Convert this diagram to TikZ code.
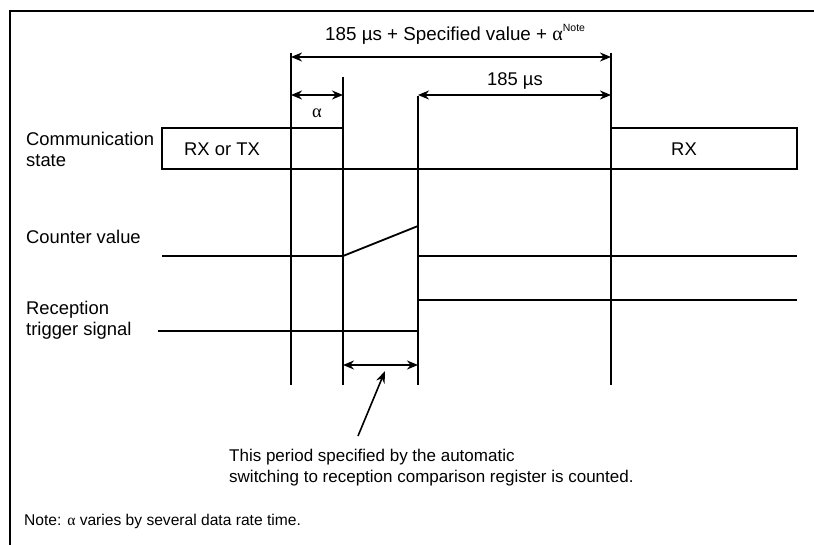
\documentclass[tikz,border=0pt]{standalone}
\usepackage{fontspec}
\setmainfont{Liberation Sans}
\newfontfamily\grk{Liberation Serif}
\usetikzlibrary{arrows.meta}
\begin{document}
\begin{tikzpicture}[x=1pt,y=-1pt,
  lbl/.style={inner sep=0pt, font=\fontsize{18.4}{21}\selectfont, anchor=base west, align=left},
  stxt/.style={inner sep=0pt, font=\fontsize{18.4}{21}\selectfont, anchor=base},
  sig/.style={line width=1.8pt, line join=miter},
  vline/.style={line width=1.6pt},
  dimarrow/.style={line width=1.8pt, {Stealth[length=11pt,width=9pt]}-{Stealth[length=11pt,width=9pt]}},
  pointer/.style={line width=1.6pt, -{Stealth[length=12pt,width=9pt]}}
]
\useasboundingbox (0,0) rectangle (814,545);
% frame
\coordinate (fr) at (814,11);
\coordinate (fc) at (10,11);
\coordinate (fb) at (10,545);
\draw[line width=2.2pt] (fr) -- (fc) -- (fb);

% vertical timing lines
\coordinate (v1t) at (291,53);  \coordinate (v1b) at (291,385);
\coordinate (v2t) at (343,77);  \coordinate (v2b) at (343,385);
\coordinate (v3t) at (418,96);  \coordinate (v3b) at (418,385);
\coordinate (v4t) at (611,53);  \coordinate (v4b) at (611,385);
\draw[vline] (v1t) -- (v1b);
\draw[vline] (v2t) -- (v2b);
\draw[vline] (v3t) -- (v3b);
\draw[vline] (v4t) -- (v4b);

% communication state
\coordinate (b1) at (343,128);
\coordinate (b2) at (162,128);
\coordinate (b3) at (162,169);
\coordinate (b4) at (797,169);
\coordinate (b5) at (797,128);
\coordinate (b6) at (611,128);
\draw[sig] (b1) -- (b2) -- (b3) -- (b4) -- (b5) -- (b6);

% counter value
\coordinate (c1) at (162,256);
\coordinate (c2) at (343,256);
\coordinate (c3) at (418,226);
\coordinate (c4) at (418,256);
\coordinate (c5) at (797,256);
\draw[sig] (c1) -- (c2) -- (c3);
\draw[sig] (c4) -- (c5);

% reception trigger signal
\coordinate (t1) at (158,331);
\coordinate (t2) at (418,331);
\coordinate (t3) at (418,300);
\coordinate (t4) at (797,300);
\draw[sig] (t1) -- (t2);
\draw[sig] (t3) -- (t4);

% dimension arrows
\coordinate (d1a) at (291,57);  \coordinate (d1b) at (611,57);
\coordinate (d2a) at (291,95);  \coordinate (d2b) at (343,95);
\coordinate (d3a) at (418,95);  \coordinate (d3b) at (611,95);
\coordinate (d4a) at (343,365); \coordinate (d4b) at (418,365);
\draw[dimarrow] (d1a) -- (d1b);
\draw[dimarrow] (d2a) -- (d2b);
\draw[dimarrow] (d3a) -- (d3b);
\draw[dimarrow] (d4a) -- (d4b);

% pointer
\coordinate (p1) at (358,436);
\coordinate (p2) at (385,371);
\draw[pointer] (p1) -- (p2);

% labels (base anchor = baseline of last line)
\node[lbl] (comm) at (26,167) {Communication\\state};
\node[lbl] (cnt) at (26,244) {Counter value};
\node[lbl] (rec) at (26,336) {Reception\\trigger signal};
\node[stxt] (rxtx) at (222,156) {RX or TX};
\node[stxt] (rx) at (684,156) {RX};
\node[inner sep=0pt, font=\fontsize{18.8}{21}\selectfont, anchor=base west] (total) at (325,41)
  {185 µs + Specified value + {\grk\fontsize{20}{21}\selectfont α}\raisebox{0.95ex}{\fontsize{10.5}{11}\selectfont Note}};
\node[stxt] (t185) at (515,86) {185 µs};
\node[stxt] (alab) at (317,118) {\grk α};
\node[inner sep=0pt, font=\fontsize{17}{21}\selectfont, anchor=base west, align=left] (expl) at (229,482)
  {This period specified by the automatic\\switching to reception comparison register is counted.};
\node[inner sep=0pt, font=\fontsize{15.6}{20}\selectfont, anchor=base west] (note) at (24,525)
  {Note: {\grk α} varies by several data rate time.};
\end{tikzpicture}
\end{document}
